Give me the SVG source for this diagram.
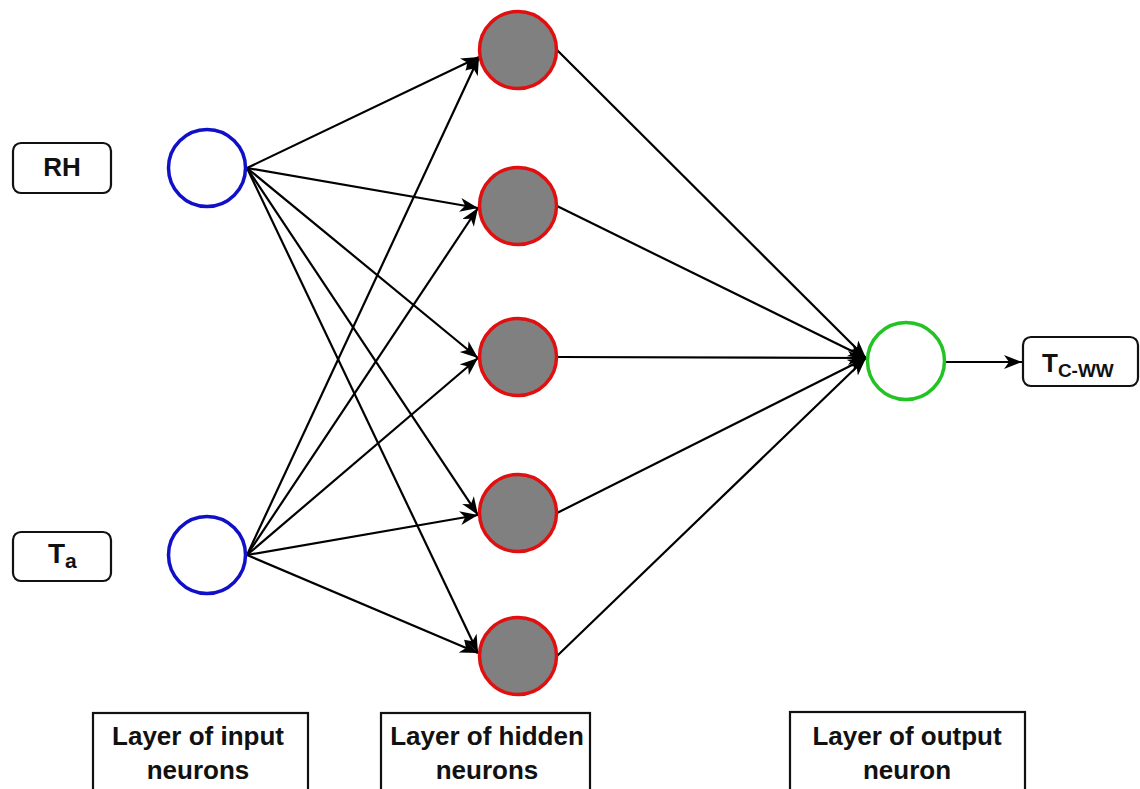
<svg xmlns="http://www.w3.org/2000/svg" width="1140" height="789" viewBox="0 0 1140 789">
  <style>
    .lbl { font-family: "Liberation Sans", Arial, sans-serif; font-weight: bold; fill: #111; }
    .box { fill: #fff; stroke: #111; stroke-width: 2.2; }
    .conn { stroke: #000; stroke-width: 2.2; fill: none; marker-end: url(#arr); }
    .inN { fill: #fff; stroke: #1010c8; stroke-width: 3.5; }
    .hidN { fill: #808080; stroke: #e01010; stroke-width: 3.5; }
    .outN { fill: #fff; stroke: #22c322; stroke-width: 3.5; }
    .lay { font-size: 26px; text-anchor: middle; }
  </style>
  <defs>
    <marker id="arr" markerUnits="userSpaceOnUse" markerWidth="20" markerHeight="16" refX="18" refY="7" orient="auto">
      <path d="M0,0 L18,7 L0,14 L5,7 Z" fill="#000"/>
    </marker>
  </defs>
  <rect width="1140" height="789" fill="#fff"/>

  <g id="connectors">
    <line class="conn" x1="247" y1="168" x2="479" y2="57"/>
    <line class="conn" x1="247" y1="168" x2="478" y2="208"/>
    <line class="conn" x1="247" y1="168" x2="478" y2="358"/>
    <line class="conn" x1="247" y1="168" x2="478" y2="515"/>
    <line class="conn" x1="247" y1="168" x2="478" y2="653"/>
    <line class="conn" x1="247" y1="555" x2="479" y2="57"/>
    <line class="conn" x1="247" y1="555" x2="478" y2="208"/>
    <line class="conn" x1="247" y1="555" x2="478" y2="358"/>
    <line class="conn" x1="247" y1="555" x2="478" y2="515"/>
    <line class="conn" x1="247" y1="555" x2="478" y2="653"/>
    <line class="conn" x1="557" y1="50" x2="866" y2="358"/>
    <line class="conn" x1="557" y1="206" x2="866" y2="358"/>
    <line class="conn" x1="557" y1="357" x2="866" y2="358"/>
    <line class="conn" x1="557" y1="513" x2="866" y2="358"/>
    <line class="conn" x1="557" y1="656" x2="866" y2="358"/>
    <line class="conn" x1="946" y1="362" x2="1022" y2="362"/>
  </g>

  <g id="label-RH">
    <rect class="box" x="13" y="143" width="98" height="50" rx="8"/>
    <text class="lbl" x="62" y="176" font-size="26" text-anchor="middle">RH</text>
  </g>
  <g id="label-Ta">
    <rect class="box" x="13" y="532" width="98" height="49" rx="8"/>
    <text class="lbl" x="48" y="563" font-size="28">T<tspan font-size="21" dy="5">a</tspan></text>
  </g>
  <g id="label-Tcww">
    <rect class="box" x="1023" y="337" width="115" height="49" rx="8"/>
    <text class="lbl" x="1042" y="372" font-size="26">T<tspan font-size="19" dy="5">C-WW</tspan></text>
  </g>

  <g id="input-1"><circle class="inN" cx="207" cy="168" r="38.5"/></g>
  <g id="input-2"><circle class="inN" cx="207" cy="555" r="38.5"/></g>

  <g id="hidden-1"><circle class="hidN" cx="518" cy="50" r="38.5"/></g>
  <g id="hidden-2"><circle class="hidN" cx="518" cy="206" r="38.5"/></g>
  <g id="hidden-3"><circle class="hidN" cx="518" cy="357" r="38.5"/></g>
  <g id="hidden-4"><circle class="hidN" cx="518" cy="513" r="38.5"/></g>
  <g id="hidden-5"><circle class="hidN" cx="518" cy="656" r="38.5"/></g>

  <g id="output-1"><circle class="outN" cx="906" cy="361" r="38.5"/></g>

  <g id="layer-input">
    <rect class="box" x="93" y="713" width="215" height="90"/>
    <text class="lbl lay" x="198" y="745">Layer of input</text>
    <text class="lbl lay" x="198" y="779">neurons</text>
  </g>
  <g id="layer-hidden">
    <rect class="box" x="381" y="713" width="209" height="90"/>
    <text class="lbl lay" x="487" y="745">Layer of hidden</text>
    <text class="lbl lay" x="487" y="779">neurons</text>
  </g>
  <g id="layer-output">
    <rect class="box" x="790" y="712" width="235" height="90"/>
    <text class="lbl lay" x="907" y="745">Layer of output</text>
    <text class="lbl lay" x="907" y="779">neuron</text>
  </g>
</svg>
